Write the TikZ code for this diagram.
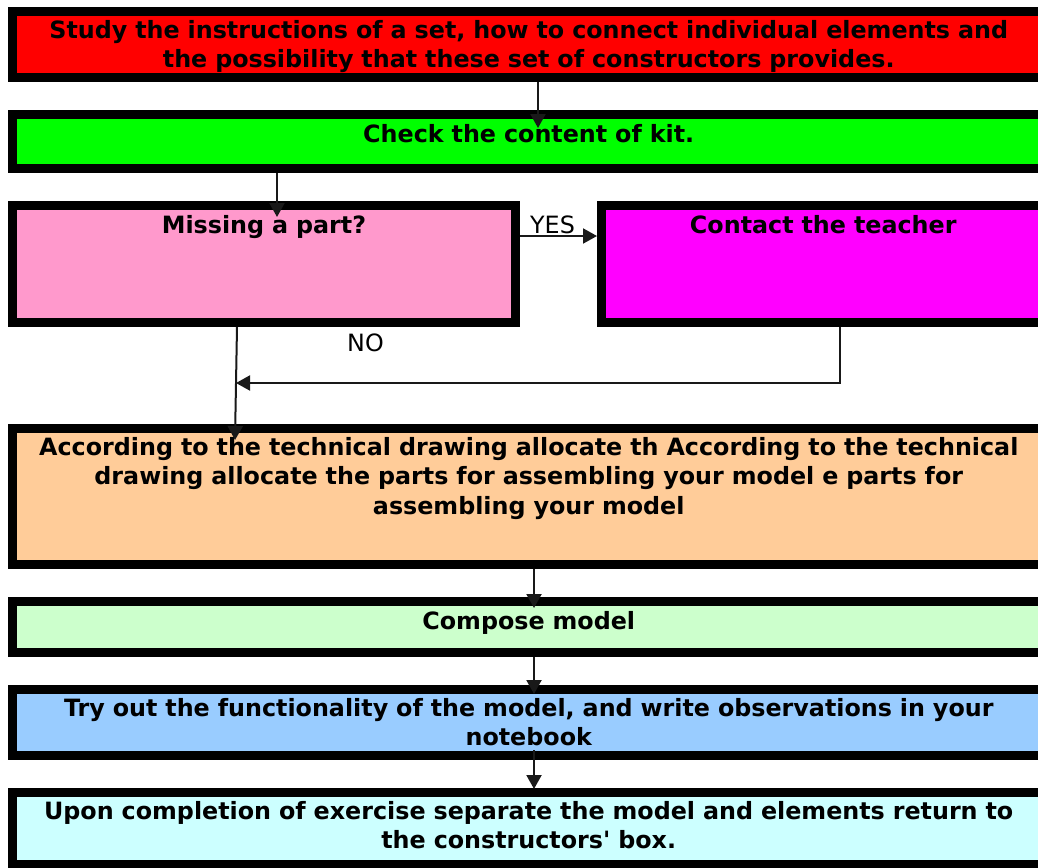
\documentclass[tikz,border=0pt]{standalone}
\usepackage{fontspec}
\setmainfont{DejaVu Sans}[Ligatures=TeXOff]
\usetikzlibrary{arrows.meta}
\definecolor{cRed}{HTML}{FF0000}
\definecolor{cGreen}{HTML}{00FF00}
\definecolor{cPink}{HTML}{FF99CC}
\definecolor{cMagenta}{HTML}{FF00FF}
\definecolor{cPeach}{HTML}{FFCC99}
\definecolor{cMint}{HTML}{CCFFCC}
\definecolor{cSky}{HTML}{99CCFF}
\definecolor{cIce}{HTML}{CCFFFF}
\begin{document}
\begin{tikzpicture}[x=1pt,y=-1pt,
  box/.style={draw=black, line width=9pt, rectangle, inner sep=0pt},
  lbl/.style={font=\fontsize{23.8}{29.5}\selectfont\bfseries, text width=1036pt,
              align=center, inner sep=0pt, anchor=base},
  tag/.style={font=\fontsize{23.8}{28}\selectfont, inner sep=0pt, anchor=base},
  arr/.style={line width=2pt, draw=black!90, -{Triangle[length=14pt,width=15pt]}},
]
\useasboundingbox (0,0) rectangle (1038,867);
\clip (0,0) rectangle (1038,867);

% step boxes
\node[box, fill=cRed,     minimum width=1032.5pt, minimum height=66pt]  (study)   at (528.75,44.5) {};
\node[box, fill=cGreen,   minimum width=1032.5pt, minimum height=54pt]  (check)   at (528.75,141.5) {};
\node[box, fill=cPink,    minimum width=503pt,    minimum height=117pt] (missing) at (264,264) {};
\node[box, fill=cMagenta, minimum width=443.5pt,  minimum height=117pt] (teacher) at (823.25,264) {};
\node[box, fill=cPeach,   minimum width=1032.5pt, minimum height=136pt] (alloc)   at (528.75,496.5) {};
\node[box, fill=cMint,    minimum width=1032.5pt, minimum height=51pt]  (compose) at (528.75,627) {};
\node[box, fill=cSky,     minimum width=1032.5pt, minimum height=66pt]  (tryout)  at (528.75,722.5) {};
\node[box, fill=cIce,     minimum width=1032.5pt, minimum height=72pt]  (finish)  at (528.75,828.5) {};

% box texts
\node[lbl] (tStudy) at (528.75,38) {Study the instructions of a set, how to connect individual elements and\\the possibility that these set of constructors provides.};
\node[lbl] (tCheck) at (528.75,142) {Check the content of kit.};
\node[lbl] (tMissing) at (264,233) {Missing a part?};
\node[lbl] (tTeacher) at (823.25,233) {Contact the teacher};
\node[lbl] (tAlloc) at (528.75,455) {According to the technical drawing allocate th According to the technical\\drawing allocate the parts for assembling your model e parts for\\assembling your model};
\node[lbl] (tCompose) at (528.75,629) {Compose model};
\node[lbl] (tTry) at (528.75,716) {Try out the functionality of the model, and write observations in your\\notebook};
\node[lbl] (tFinish) at (528.75,819) {Upon completion of exercise separate the model and elements return to\\the constructors' box.};

% branch labels
\node[tag] (yes) at (552.5,233) {YES};
\node[tag] (no) at (365.5,351) {NO};

% connectors
\coordinate (merge) at (236,383);
\draw[arr] ([xshift=9.25pt]study.south) -- ([xshift=9.25pt,yshift=-18pt]check.north);
\draw[arr] ([xshift=-251.75pt]check.south) -- ([xshift=13pt,yshift=-16pt]missing.north);
\draw[arr] ([yshift=28pt]missing.east) -- ([yshift=28pt]teacher.west);
\draw[arr] ([xshift=-27pt]missing.south) -- ([xshift=-293.75pt,yshift=-16pt]alloc.north);
\draw[arr] ([xshift=16.75pt]teacher.south) |- (merge);
\draw[arr] ([xshift=5.25pt]alloc.south) -- ([xshift=5.25pt,yshift=-11pt]compose.north);
\draw[arr] ([xshift=5.25pt]compose.south) -- ([xshift=5.25pt,yshift=-9pt]tryout.north);
\draw[arr] ([xshift=5.25pt,yshift=10pt]tryout.south) -- ([xshift=5.25pt,yshift=-1pt]finish.north);
\end{tikzpicture}
\end{document}
